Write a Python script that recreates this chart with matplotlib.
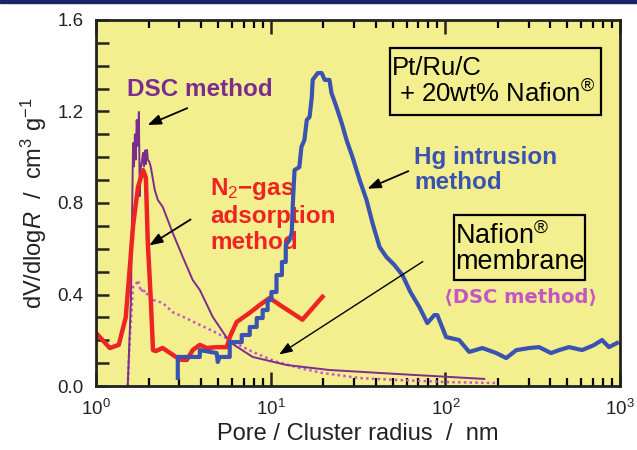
import numpy as np
import matplotlib
matplotlib.use("Agg")
import matplotlib.pyplot as plt
from matplotlib.ticker import MultipleLocator, LogLocator, NullFormatter

plt.rcParams['font.family'] = ['Liberation Sans', 'DejaVu Sans']
plt.rcParams['mathtext.fontset'] = 'custom'
plt.rcParams['mathtext.rm'] = 'Liberation Sans'
plt.rcParams['mathtext.it'] = 'Liberation Sans:italic'

# N2-gas adsorption
n2_r = [1.0, 1.20, 1.35, 1.48, 1.54, 1.63, 1.74, 1.86, 1.93, 1.98, 2.06, 2.12, 2.20,
        2.41, 2.87, 3.10, 3.31, 3.58, 3.93, 4.31, 4.91, 5.61, 5.83, 6.39, 7.59, 8.65,
        9.87, 11.3, 15.2, 19.8]
n2_v = [0.232, 0.166, 0.18, 0.30, 0.46, 0.70, 0.87, 0.944, 0.91, 0.625, 0.376, 0.157,
        0.153, 0.166, 0.127, 0.114, 0.114, 0.157, 0.18, 0.166, 0.17, 0.17, 0.214, 0.28,
        0.32, 0.354, 0.385, 0.354, 0.29, 0.39]

# DSC method (Pt/Ru/C + Nafion)
dsc_r = [1.52, 1.585, 1.63, 1.65, 1.67, 1.69, 1.71, 1.74, 1.76, 1.78, 1.80, 1.83, 1.86,
         1.88, 1.91, 1.93, 1.96, 1.98, 2.02, 2.06, 2.17, 2.26, 2.41, 2.75, 3.14, 3.58,
         3.93, 4.66, 5.83, 7.89, 12.3, 21.7, 54.6, 167]
dsc_v = [0.0, 0.376, 1.062, 0.96, 1.10, 0.99, 1.163, 1.05, 1.198, 0.83, 0.95, 0.98,
         1.019, 0.96, 1.03, 0.97, 1.032, 0.99, 0.98, 0.957, 0.857, 0.813, 0.783, 0.669,
         0.564, 0.463, 0.42, 0.302, 0.192, 0.127, 0.092, 0.070, 0.052, 0.031]

# Nafion membrane (DSC)
naf_r = [1.52, 1.56, 1.63, 1.69, 1.74, 1.81, 1.86, 1.93, 2.01, 2.14, 2.41, 2.75, 3.27,
         3.93, 4.79, 5.83, 7.89, 10.5, 14.6, 19.8, 32.3, 54.6, 105, 198]
naf_v = [0.0, 0.201, 0.433, 0.442, 0.463, 0.411, 0.428, 0.398, 0.407, 0.376, 0.363,
         0.323, 0.297, 0.267, 0.236, 0.201, 0.149, 0.109, 0.079, 0.057, 0.035, 0.026,
         0.017, 0.013]

# Hg intrusion
hg_r = [2.94, 2.94, 3.93, 3.93, 4.91, 4.98, 5.11, 5.83, 5.83, 6.83, 6.83, 7.59, 7.59,
        8.32, 8.32, 9.00, 9.00, 9.61, 9.61, 10.1, 10.1, 10.8, 10.8, 11.6, 11.6, 12.2,
        12.2, 12.8, 13.2, 13.4, 13.7, 14.6, 15.0, 15.6, 16.1, 16.7, 17.2, 17.4, 18.6,
        19.6, 20.4, 21.7, 22.3, 23.8, 25.5, 27.2, 29.4, 32.3, 35.4, 38.3, 42.0, 46.0,
        51.1, 56.8, 63.1, 71.0, 78.9, 86.5, 90.0, 101, 120, 137, 163, 196, 223, 255,
        302, 344, 403, 448, 511, 607, 710, 789, 865, 961]
hg_v = [0.035, 0.127, 0.127, 0.157, 0.144, 0.105, 0.127, 0.127, 0.192, 0.192, 0.223,
        0.223, 0.258, 0.258, 0.297, 0.297, 0.332, 0.332, 0.376, 0.376, 0.411, 0.411,
        0.485, 0.485, 0.542, 0.542, 0.616, 0.638, 0.669, 0.80, 0.944, 0.957, 1.045,
        1.075, 1.163, 1.176, 1.263, 1.338, 1.368, 1.368, 1.338, 1.338, 1.281, 1.22,
        1.15, 1.075, 1.001, 0.901, 0.813, 0.712, 0.608, 0.564, 0.529, 0.485, 0.411,
        0.345, 0.275, 0.31, 0.31, 0.214, 0.201, 0.149, 0.166, 0.144, 0.122, 0.157,
        0.166, 0.17, 0.144, 0.157, 0.17, 0.157, 0.179, 0.201, 0.17, 0.188]

fig = plt.figure(figsize=(6.37, 4.5), dpi=100)
ax = fig.add_axes([0.1507, 0.1422, 0.8226, 0.8134])
ax.set_facecolor('#f4ef8e')

ax.plot(naf_r, naf_v, color='#c855c8', lw=1.8, ls=(0, (1, 1.3)))
ax.plot(dsc_r, dsc_v, color='#7b2d8e', lw=1.4)
ax.plot(n2_r, n2_v, color='#ee2424', lw=3.2)
ax.plot(hg_r, hg_v, color='#3a52b0', lw=3.0)

ax.set_xscale('log')
ax.set_xlim(1, 1000)
ax.set_ylim(0, 1.6)
ax.yaxis.set_major_locator(MultipleLocator(0.4))
ax.yaxis.set_minor_locator(MultipleLocator(0.1))
ax.xaxis.set_minor_locator(LogLocator(base=10, subs=np.arange(2, 10)))
ax.xaxis.set_minor_formatter(NullFormatter())
ax.yaxis.set_major_formatter(plt.FuncFormatter(lambda v, p: f'{v:.1f}'))

ax.tick_params(axis='y', which='both', direction='in', length=9, width=1.8,
               left=True, right=False, labelsize=13.5, pad=9, colors='#222222')
ax.tick_params(axis='x', which='major', direction='in', length=10, width=1.8,
               top=True, bottom=True, labelsize=13.5, pad=9, colors='#222222')
ax.tick_params(axis='x', which='minor', direction='in', length=5.5, width=1.6,
               top=True, bottom=True)
for s in ax.spines.values():
    s.set_linewidth(2)
    s.set_color('#222222')

ax.set_xlabel('Pore / Cluster radius  /  nm', fontsize=17, color='#222222', labelpad=3)
ax.set_ylabel('dV/dlog$R$  /  cm$^3$ g$^{-1}$', fontsize=17, color='#222222', labelpad=6)

bold = dict(fontweight='bold', fontsize=17.5, transform=ax.transAxes, zorder=1.5)
arrow = dict(arrowstyle='-|>,head_length=0.8,head_width=0.3', color='black', lw=1.3)

ax.text(0.060, 0.809, 'DSC method', color='#7b2d8e', va='center', ha='left', **bold)
ax.annotate('', xy=(0.0935, 0.710), xytext=(0.179, 0.762), xycoords='axes fraction',
            textcoords='axes fraction', arrowprops=arrow)

ax.text(0.218, 0.467, 'N$_2$\u2212gas\nadsorption\nmethod', color='#ee2424', va='center',
        ha='left', linespacing=1.15, **bold)
ax.annotate('', xy=(0.097, 0.380), xytext=(0.185, 0.459), xycoords='axes fraction',
            textcoords='axes fraction', arrowprops=arrow)

ax.text(0.607, 0.590, 'Hg intrusion\nmethod', color='#3a52b0', va='center', ha='left',
        linespacing=1.15, **bold)
ax.annotate('', xy=(0.513, 0.536), xytext=(0.601, 0.590), xycoords='axes fraction',
            textcoords='axes fraction', arrowprops=arrow)

ax.add_patch(plt.Rectangle((0.561, 0.740), 0.403, 0.183, transform=ax.transAxes,
                           fill=False, lw=1.6, ec='black'))
ax.text(0.564, 0.831, 'Pt/Ru/C\n + 20wt% Nafion$^{\u00ae}$', fontsize=18.5, va='center',
        ha='left', transform=ax.transAxes, linespacing=1.05)

ax.add_patch(plt.Rectangle((0.683, 0.290), 0.25, 0.178, transform=ax.transAxes,
                           fill=False, lw=1.6, ec='black'))
ax.text(0.686, 0.376, 'Nafion$^{\u00ae}$\nmembrane', fontsize=19.5, va='center', ha='left',
        transform=ax.transAxes, linespacing=0.95)
ax.text(0.664, 0.243, '\u27e8DSC method\u27e9', color='#c455c4', va='center', ha='left',
        fontweight='bold', fontsize=14, transform=ax.transAxes,
        family=['DejaVu Sans'])
ax.annotate('', xy=(0.345, 0.082), xytext=(0.628, 0.344), xycoords='axes fraction',
            textcoords='axes fraction',
            arrowprops=dict(arrowstyle='-|>,head_length=0.8,head_width=0.3',
                            color='black', lw=1.0))

fig.add_artist(plt.Rectangle((0, 1 - 2.5 / 450), 1, 2.5 / 450, transform=fig.transFigure,
                             color='#1c2470'))

fig.savefig('out.png', dpi=100)
